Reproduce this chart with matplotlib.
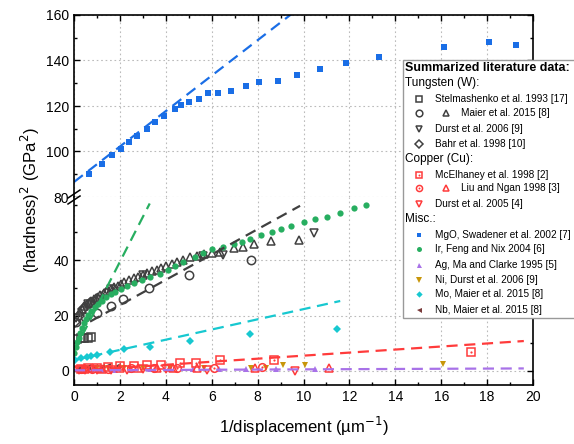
import numpy as np
import matplotlib
matplotlib.use("Agg")
import matplotlib.pyplot as plt
from matplotlib.lines import Line2D
from matplotlib.patches import Rectangle
from matplotlib.ticker import MultipleLocator

plt.rcParams["font.family"] = ["Liberation Sans", "DejaVu Sans"]

# ---- Tungsten (W) ----
stel_x = [0.15, 0.3, 0.45, 0.6, 0.75]
stel_y = [11.5, 11.8, 12.0, 12.0, 12.3]

maier_w_circ_x = [0.1, 0.5, 1.0, 1.6, 2.15, 3.25, 5.0, 7.7]
maier_w_circ_y = [17.5, 19.5, 21.0, 23.5, 26.0, 30.0, 34.5, 40.2]

maier_w_tri_x = [0.25, 0.35, 0.45, 0.55, 0.65, 0.75, 0.85, 0.95, 1.05, 1.15, 1.3, 1.45,
                 1.6, 1.75, 1.9, 2.05, 2.2, 2.4, 2.6, 2.8, 3.0, 3.2, 3.4, 3.6, 3.8, 4.0,
                 4.25, 4.5, 4.75, 5.05, 5.35, 5.65, 6.0, 6.35, 6.95, 7.35, 7.85, 8.6, 9.8]
maier_w_tri_y = [21.5, 22.5, 23.3, 24.0, 24.6, 25.2, 25.8, 26.3, 26.8, 27.3, 28.0, 28.8,
                 29.5, 30.2, 30.8, 31.4, 32.0, 32.7, 33.4, 34.0, 34.7, 35.3, 36.0, 36.6, 37.2, 37.8,
                 38.6, 39.3, 40.0, 41.0, 41.6, 42.2, 42.5, 43.0, 44.2, 44.8, 45.7, 46.9, 47.4]

durst06_w_x = [0.1, 0.6, 1.6, 3.0, 5.6, 6.5, 10.45]
durst06_w_y = [19.0, 24.0, 29.5, 34.5, 41.5, 41.8, 49.8]

bahr_x = [0.05, 0.2, 0.4, 0.7, 1.0, 1.4]
bahr_y = [17.5, 20.0, 22.5, 24.5, 26.0, 28.0]

# ---- Copper (Cu) ----
mcel_x = [0.3, 0.6, 1.0, 1.5, 2.0, 2.6, 3.2, 3.8, 4.6, 5.3, 6.35, 8.7, 17.3]
mcel_y = [0.8, 1.0, 1.2, 1.4, 1.7, 1.9, 2.2, 2.3, 2.8, 3.0, 4.0, 3.8, 6.9]

liu_circ_x = [0.3, 0.8, 1.5, 2.5, 3.5, 4.5, 6.1, 8.2]
liu_circ_y = [0.5, 0.6, 0.8, 0.9, 1.0, 1.1, 1.2, 1.3]
liu_tri_x = [0.5, 1.2, 2.0, 2.8, 3.6, 4.3, 5.35, 7.9, 11.1]
liu_tri_y = [0.7, 0.8, 0.9, 1.0, 1.0, 1.1, 1.2, 0.9, 0.9]

durst05_x = [0.2, 0.5, 1.0, 1.6, 2.3, 3.0, 4.0, 5.8, 9.65]
durst05_y = [0.2, 0.3, 0.3, 0.4, 0.4, 0.5, 0.5, 0.3, 0.1]

# ---- Misc. ----
mgo_x = [0.67, 1.21, 1.66, 2.05, 2.40, 2.76, 3.20, 3.53, 3.92, 4.38, 4.67, 5.03, 5.44,
         5.86, 6.29, 6.83, 7.49, 8.08, 8.90, 9.73, 10.71, 11.85, 13.27, 16.13, 18.1, 19.28]
mgo_y = [90.2, 94.4, 98.3, 101.0, 104.0, 106.7, 110.0, 112.8, 115.8, 118.5, 120.4, 121.8, 123.1,
         125.9, 125.9, 126.5, 128.9, 130.5, 131.0, 133.8, 136.4, 139.0, 141.7, 145.9, 148.1, 146.8]

ir_x = [0.02, 0.08, 0.14, 0.2, 0.27, 0.35, 0.43, 0.52, 0.62, 0.75, 0.9, 1.05, 1.2, 1.4,
        1.6, 1.8, 2.05, 2.3, 2.6, 2.95, 3.3, 3.75, 4.1, 4.4, 4.77, 5.28, 5.64, 6.0, 6.51,
        6.95, 7.3, 7.65, 8.14, 8.63, 9.01, 9.46, 10.0, 10.52, 11.03, 11.61, 12.18, 12.73]
ir_y = [6.5, 8.5, 10.5, 12.0, 13.8, 15.5, 17.2, 18.8, 20.3, 21.8, 23.2, 24.3, 25.3, 26.6,
        27.6, 28.5, 29.6, 30.6, 31.6, 32.7, 33.8, 35.0, 36.4, 37.8, 39.5, 41.2, 42.5, 44.0, 44.8,
        45.7, 46.6, 47.8, 49.1, 50.3, 51.3, 52.5, 53.6, 55.0, 55.6, 57.2, 58.7, 59.8]

ag_x = [0.3, 0.7, 1.2, 1.8, 2.5, 3.3, 4.2, 5.2, 6.3, 7.5, 8.8, 10.5]
ag_y = [0.3, 0.3, 0.4, 0.4, 0.4, 0.5, 0.5, 0.5, 0.5, 0.6, 0.6, 0.6]

ni_x = [0.5, 1.0, 1.5, 2.2, 3.0, 4.2, 5.65, 7.7, 8.35, 9.1, 10.05, 16.1]
ni_y = [0.9, 0.9, 1.0, 1.0, 1.0, 1.0, 1.2, 1.0, 1.2, 2.0, 2.1, 2.4]

mo_x = [0.05, 0.3, 0.55, 0.75, 1.0, 1.55, 2.2, 3.3, 5.05, 7.65, 11.45]
mo_y = [4.0, 4.5, 4.9, 5.3, 5.7, 6.9, 7.8, 8.7, 10.7, 13.2, 15.1]

nb_x = [0.2, 0.4, 0.6, 0.9, 1.2, 1.5, 1.9]
nb_y = [1.0, 1.2, 1.3, 1.4, 1.5, 1.6, 1.7]

# linear fits: (intercept, slope, x_start, x_end)
fit_mgo = (86.6, 7.79, 0.0, 10.5)
fit_w = (14.6, 4.57, 0.7, 9.85)
fit_ir = (7.0, 16.2, 0.0, 3.3)
fit_mo = (3.9, 1.84, 0.0, 11.6)
fit_cu = (0.0, 0.55, 0.0, 19.6)
fit_ag = (0.2, 0.035, 0.0, 19.6)

GRAY = "#404040"
RED = "#ff3b3b"
BLUE = "#1a6ee6"
GREEN = "#27ae60"
PURPLE = "#a872e8"
GOLD = "#c8960a"
CYAN = "#17c8d0"
BROWN = "#7a3b3b"

open_w = dict(mfc="none", mec=GRAY, mew=1.1, ms=6)
open_cu = dict(mfc="none", mec=RED, mew=1.1, ms=5.5)
styles = {
    "stel": dict(marker="s", **open_w),
    "maier_c": dict(marker="o", **open_w),
    "maier_t": dict(marker="^", **open_w),
    "durst06": dict(marker="v", **open_w),
    "bahr": dict(marker="D", mfc="none", mec=GRAY, mew=1.1, ms=5),
    "mcel": dict(marker="s", **open_cu),
    "liu_c": dict(marker="o", **open_cu),
    "liu_t": dict(marker="^", **open_cu),
    "durst05": dict(marker="v", **open_cu),
    "mgo": dict(marker="s", color=BLUE, ms=4, mew=0),
    "ir": dict(marker="o", color=GREEN, ms=4.5, mew=0),
    "ag": dict(marker="^", color=PURPLE, ms=4.5, mew=0),
    "ni": dict(marker="v", color=GOLD, ms=5, mew=0),
    "mo": dict(marker="D", color=CYAN, ms=4, mew=0),
    "nb": dict(marker="<", color=BROWN, ms=4.5, mew=0),
}
dotted = {"mcel", "liu_c"}


def scatter(ax, x, y, key):
    ax.plot(x, y, ls="none", **styles[key])
    if key in dotted:
        ax.plot(x, y, ls="none", marker="o", ms=1.6, mew=0, color=RED)


def fit(ax, params, color):
    b, m, x0, x1 = params
    xs = np.array([x0, x1])
    ax.plot(xs, b + m * xs, ls=(0, (5, 3)), lw=1.6, color=color)


W, H = 574, 444
fig = plt.figure(figsize=(W / 100, H / 100), dpi=100)
left, right = 74, 533
top, brk, bot = 15, 197, 385
ax_hi = fig.add_axes([left / W, 1 - brk / H, (right - left) / W, (brk - top) / H])
ax_lo = fig.add_axes([left / W, 1 - bot / H, (right - left) / W, (bot - brk) / H])

for ax in (ax_hi, ax_lo):
    ax.set_xlim(0, 20)
    ax.xaxis.set_major_locator(MultipleLocator(2))
    ax.xaxis.set_minor_locator(MultipleLocator(1))
    ax.yaxis.set_major_locator(MultipleLocator(20))
    ax.yaxis.set_minor_locator(MultipleLocator(10))
    ax.grid(True, which="major", ls=(0, (1.5, 2.5)), color="#bbbbbb", lw=0.8)
    ax.tick_params(which="both", direction="in", right=True, labelsize=10, width=1)
    ax.tick_params(which="major", length=4)
    ax.tick_params(which="minor", length=2.5)
    for s in ax.spines.values():
        s.set_linewidth(1.2)

ax_hi.set_ylim(80, 160)
ax_lo.set_ylim(-5.1, 62.8)
ax_lo.set_yticks([0, 20, 40])
ax_hi.spines["bottom"].set_visible(False)
ax_lo.spines["top"].set_visible(False)
ax_hi.tick_params(which="both", bottom=False, top=True, labelbottom=False)
ax_lo.tick_params(which="both", top=False)

# upper segment: MgO
scatter(ax_hi, mgo_x, mgo_y, "mgo")
fit(ax_hi, fit_mgo, BLUE)

# lower segment
scatter(ax_lo, stel_x, stel_y, "stel")
scatter(ax_lo, bahr_x, bahr_y, "bahr")
scatter(ax_lo, durst06_w_x, durst06_w_y, "durst06")
scatter(ax_lo, maier_w_circ_x, maier_w_circ_y, "maier_c")
scatter(ax_lo, maier_w_tri_x, maier_w_tri_y, "maier_t")
scatter(ax_lo, ir_x, ir_y, "ir")
scatter(ax_lo, mo_x, mo_y, "mo")
scatter(ax_lo, ag_x, ag_y, "ag")
scatter(ax_lo, nb_x, nb_y, "nb")
scatter(ax_lo, ni_x, ni_y, "ni")
scatter(ax_lo, mcel_x, mcel_y, "mcel")
scatter(ax_lo, liu_circ_x, liu_circ_y, "liu_c")
scatter(ax_lo, liu_tri_x, liu_tri_y, "liu_t")
scatter(ax_lo, durst05_x, durst05_y, "durst05")
fit(ax_lo, fit_w, GRAY)
fit(ax_lo, fit_ir, GREEN)
fit(ax_lo, fit_mo, CYAN)
fit(ax_lo, fit_cu, RED)
fit(ax_lo, fit_ag, PURPLE)

ax_lo.set_xlabel("1/displacement (µm$^{-1}$)", fontsize=12, labelpad=8)
fig.text(30 / W, 1 - 200 / H, "(hardness)$^2$ (GPa$^2$)", rotation=90,
         ha="center", va="center", fontsize=12)


def fx(px):
    return px / W


def fy(py):
    return 1 - py / H


# axis break marks
for dy in (-3, 3):
    fig.add_artist(Line2D([fx(68), fx(80)], [fy(brk + 4 + dy), fy(brk - 4 + dy)],
                          color="black", lw=1.1))

# legend box
fig.add_artist(Rectangle((fx(403), fy(318)), fx(180), (318 - 60) / H,
                         facecolor="white", edgecolor="#999999", lw=1, zorder=5))

fig.text(fx(405), fy(68), "Summarized literature data:", fontsize=9, weight="bold",
         va="center", zorder=6)
headers = [(83, "Tungsten (W):"), (159, "Copper (Cu):"), (219, "Misc.:")]
for py, txt in headers:
    fig.text(fx(405), fy(py), txt, fontsize=8.5, va="center", zorder=6)

entries = [
    (99, ["stel"], "Stelmashenko et al. 1993 [17]"),
    (113, ["maier_c", "maier_t"], "Maier et al. 2015 [8]"),
    (129, ["durst06"], "Durst et al. 2006 [9]"),
    (144, ["bahr"], "Bahr et al. 1998 [10]"),
    (175, ["mcel"], "McElhaney et al. 1998 [2]"),
    (188, ["liu_c", "liu_t"], "Liu and Ngan 1998 [3]"),
    (204, ["durst05"], "Durst et al. 2005 [4]"),
    (235, ["mgo"], "MgO, Swadener et al. 2002 [7]"),
    (249, ["ir"], "Ir, Feng and Nix 2004 [6]"),
    (265, ["ag"], "Ag, Ma and Clarke 1995 [5]"),
    (280, ["ni"], "Ni, Durst et al. 2006 [9]"),
    (294, ["mo"], "Mo, Maier et al. 2015 [8]"),
    (310, ["nb"], "Nb, Maier et al. 2015 [8]"),
]
for py, keys, label in entries:
    for k, key in enumerate(keys):
        px = 419 + 27 * k
        st = dict(styles[key])
        st["ms"] = st["ms"] * 0.8
        fig.add_artist(Line2D([fx(px)], [fy(py)], ls="none", zorder=6, **st))
        if key in dotted:
            fig.add_artist(Line2D([fx(px)], [fy(py)], ls="none", marker="o", ms=1.4,
                                  mew=0, color=RED, zorder=7))
    tx = 435 if len(keys) == 1 else 461
    fig.text(fx(tx), fy(py), label, fontsize=7.2, va="center", zorder=6)

fig.savefig("out.png", dpi=100)
